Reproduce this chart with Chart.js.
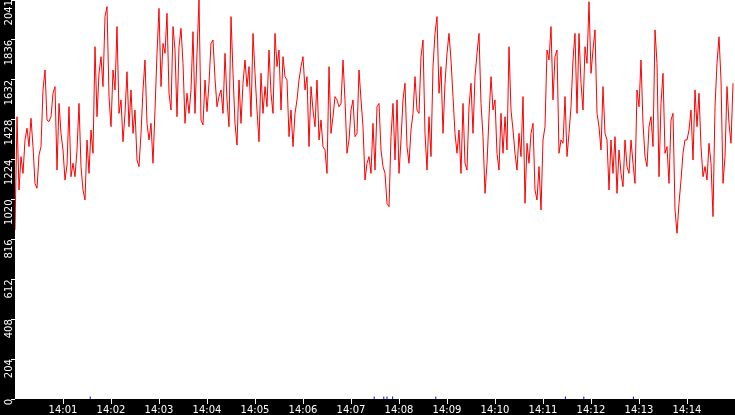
<!DOCTYPE html>
<html>
<head>
<meta charset="utf-8">
<script src="https://cdn.jsdelivr.net/npm/chart.js"></script>
<style>
  html, body { margin: 0; padding: 0; background: #000; }
  #wrap { width: 735px; height: 415px; }
</style>
</head>
<body>
<div id="wrap"><canvas id="rateChart" width="735" height="415"></canvas></div>
<script>
// samples every 2.5 s from 14:00:00
const stepSeconds = 2.5;
const rateValues = [
  865, 1444, 1069, 1240, 1154, 1325, 1385, 1291, 1436, 1291, 1103, 1078, 1248, 1291, 1581, 1683, 1427, 1419, 1444, 1564,
  1598, 1171, 1512, 1359, 1274, 1120, 1197, 1495, 1137, 1206, 1137, 1274, 1512, 1189, 1069, 1018, 1325, 1154, 1376, 1257,
  1802, 1444, 1666, 1751, 1598,
  1956, 2007, 1547, 1393, 1683, 1581, 1905, 1461, 1530, 1316, 1461, 1674, 1393, 1581, 1359, 1478, 1223, 1189, 1359, 1581,
  1734, 1410, 1325, 1410, 1206, 1478, 1768, 1998, 1598, 1819, 1768, 1973, 1564, 1478, 1905, 1785, 1444, 1802, 1896, 1717,
  1410, 1564, 1461, 1581, 1879,
  1461, 1768, 2041, 1427, 1402, 1632, 1470, 1615, 1819, 1836, 1640, 1495, 1547, 1581, 1461, 1768, 1530, 1393, 1956, 1666,
  1410, 1299, 1632, 1410, 1615, 1734, 1598, 1700, 1444, 1870, 1666, 1478, 1316, 1666, 1461, 1598, 1495, 1785, 1564, 1461,
  1870, 1700, 1785, 1478, 1751,
  1649, 1632, 1342, 1478, 1291, 1461, 1530, 1632, 1700, 1751, 1581, 1649, 1291, 1598, 1478, 1393, 1632, 1325, 1427, 1291,
  1274, 1154, 1700, 1359, 1444, 1547, 1530, 1495, 1512, 1734, 1530, 1257, 1325, 1478, 1530, 1342, 1359, 1683, 1530, 1393,
  1120, 1206, 1240, 1154, 1410,
  1171, 1495, 1512, 1274, 1189, 1154, 1001, 984, 1342, 1512, 1223, 1530, 1154, 1325, 1530, 1615, 1291, 1206, 1376, 1461,
  1649, 1478, 1461, 1751, 1836, 1359, 1171, 1444, 1240, 1700, 1870, 1956, 1564, 1700, 1359, 1615, 1768, 1870, 1734, 1547,
  1359, 1257, 1376, 1154, 1512,
  1206, 1171, 1495, 1615, 1359, 1649, 1768, 1870, 1512, 1342, 1052, 1206, 1444, 1649, 1478, 1530, 1257, 1171, 1461, 1257,
  1444, 1274, 1802, 1478, 1376, 1257, 1171, 1359, 1240, 1547, 1001, 1308, 1206, 1359, 1410, 1069, 1018, 1189, 967, 1325,
  1393, 1785, 1734, 1905, 1530,
  1751, 1785, 1257, 1325, 1308, 1547, 1240, 1359, 1495, 1734, 1870, 1461, 1870, 1615, 1478, 1802, 1717, 2032, 1666, 1785,
  1888, 1461, 1393, 1274, 1598, 1359, 1325, 1069, 1325, 1154, 1342, 1052, 1274, 1154, 1086, 1325, 1189, 1154, 1325, 1206,
  1103, 1581, 1495, 1734, 1410,
  1240, 1189, 1393, 1444, 1291, 1888, 1717, 1137, 1512, 1666, 1257, 1291, 1103, 1427, 1461, 967, 848, 1001, 1120, 1257,
  1325, 1325, 1376, 1478, 1223, 1581, 1393, 1564, 1291, 1137, 1189, 1120, 1308, 1206, 933, 1495, 1717, 1853, 1632, 1103,
  1240, 1598, 1410, 1308, 1615
];
// small secondary series near the axis (seconds after 14:00, value)
const markerSeconds = [94, 449, 461, 465, 472, 526, 688, 711, 773];
const markerValues = [5, 5, 5, 5, 5, 5, 5, 5, 5];

const yMax = 2041;
const yTickLabels = ['0', '204', '408', '612', '816', '1020', '1224', '1428', '1632', '1836', '2041'];
const xTickLabels = ['14:01', '14:02', '14:03', '14:04', '14:05', '14:06', '14:07',
                     '14:08', '14:09', '14:10', '14:11', '14:12', '14:13', '14:14'];

const rateData = rateValues.map((v, i) => ({ x: i * stepSeconds, y: v }));
const markerData = markerSeconds.map((s, i) => ({ x: s, y: markerValues[i] }));

// black frame, white plot area
const frame = {
  id: 'frame',
  beforeDraw(chart) {
    const { ctx, chartArea: a } = chart;
    ctx.save();
    ctx.fillStyle = '#000';
    ctx.fillRect(0, 0, chart.width, chart.height);
    ctx.fillStyle = '#fff';
    ctx.fillRect(a.left, a.top, a.right - a.left, a.bottom - a.top);
    ctx.restore();
  }
};

function noPad(scale) {
  scale.paddingTop = 0;
  scale.paddingBottom = 0;
  scale.paddingLeft = 0;
  scale.paddingRight = 0;
}

Chart.defaults.font.family = 'DejaVu Sans';

new Chart(document.getElementById('rateChart'), {
  type: 'scatter',
  data: {
    datasets: [{
      data: rateData,
      showLine: true,
      borderColor: '#ff0000',
      borderWidth: 1,
      pointRadius: 0,
      tension: 0,
      order: 2
    }, {
      data: markerData,
      showLine: false,
      pointStyle: 'line',
      rotation: 90,
      pointRadius: 1.5,
      borderColor: '#0000ff',
      borderWidth: 1,
      order: 1
    }]
  },
  options: {
    responsive: false,
    devicePixelRatio: 1,
    animation: false,
    layout: { padding: 0, autoPadding: false },
    plugins: { legend: { display: false }, tooltip: { enabled: false } },
    scales: {
      x: {
        type: 'linear',
        min: 0,
        max: 900,
        afterBuildTicks(scale) {
          scale.ticks = xTickLabels.map((_, i) => ({ value: (i + 1) * 60 }));
        },
        afterFit(scale) { scale.height = 16; noPad(scale); },
        ticks: {
          color: '#fff',
          font: { size: 10 },
          padding: 0,
          maxRotation: 0,
          autoSkip: false,
          callback: (v, i) => xTickLabels[i]
        },
        grid: { drawOnChartArea: false, color: '#fff', tickLength: 5, tickWidth: 1 },
        border: { display: false }
      },
      y: {
        min: 0,
        max: yMax,
        afterBuildTicks(scale) {
          scale.ticks = yTickLabels.map((_, i) => ({ value: i * yMax / 10 }));
        },
        afterFit(scale) { scale.width = 15; noPad(scale); },
        ticks: {
          color: '#fff',
          font: { size: 10 },
          padding: 2,
          minRotation: 90,
          maxRotation: 90,
          autoSkip: false,
          callback: (v, i) => yTickLabels[i]
        },
        grid: { drawOnChartArea: false, color: '#fff', tickLength: 4, tickWidth: 1 },
        border: { display: false }
      }
    }
  },
  plugins: [frame]
});
</script>
</body>
</html>
